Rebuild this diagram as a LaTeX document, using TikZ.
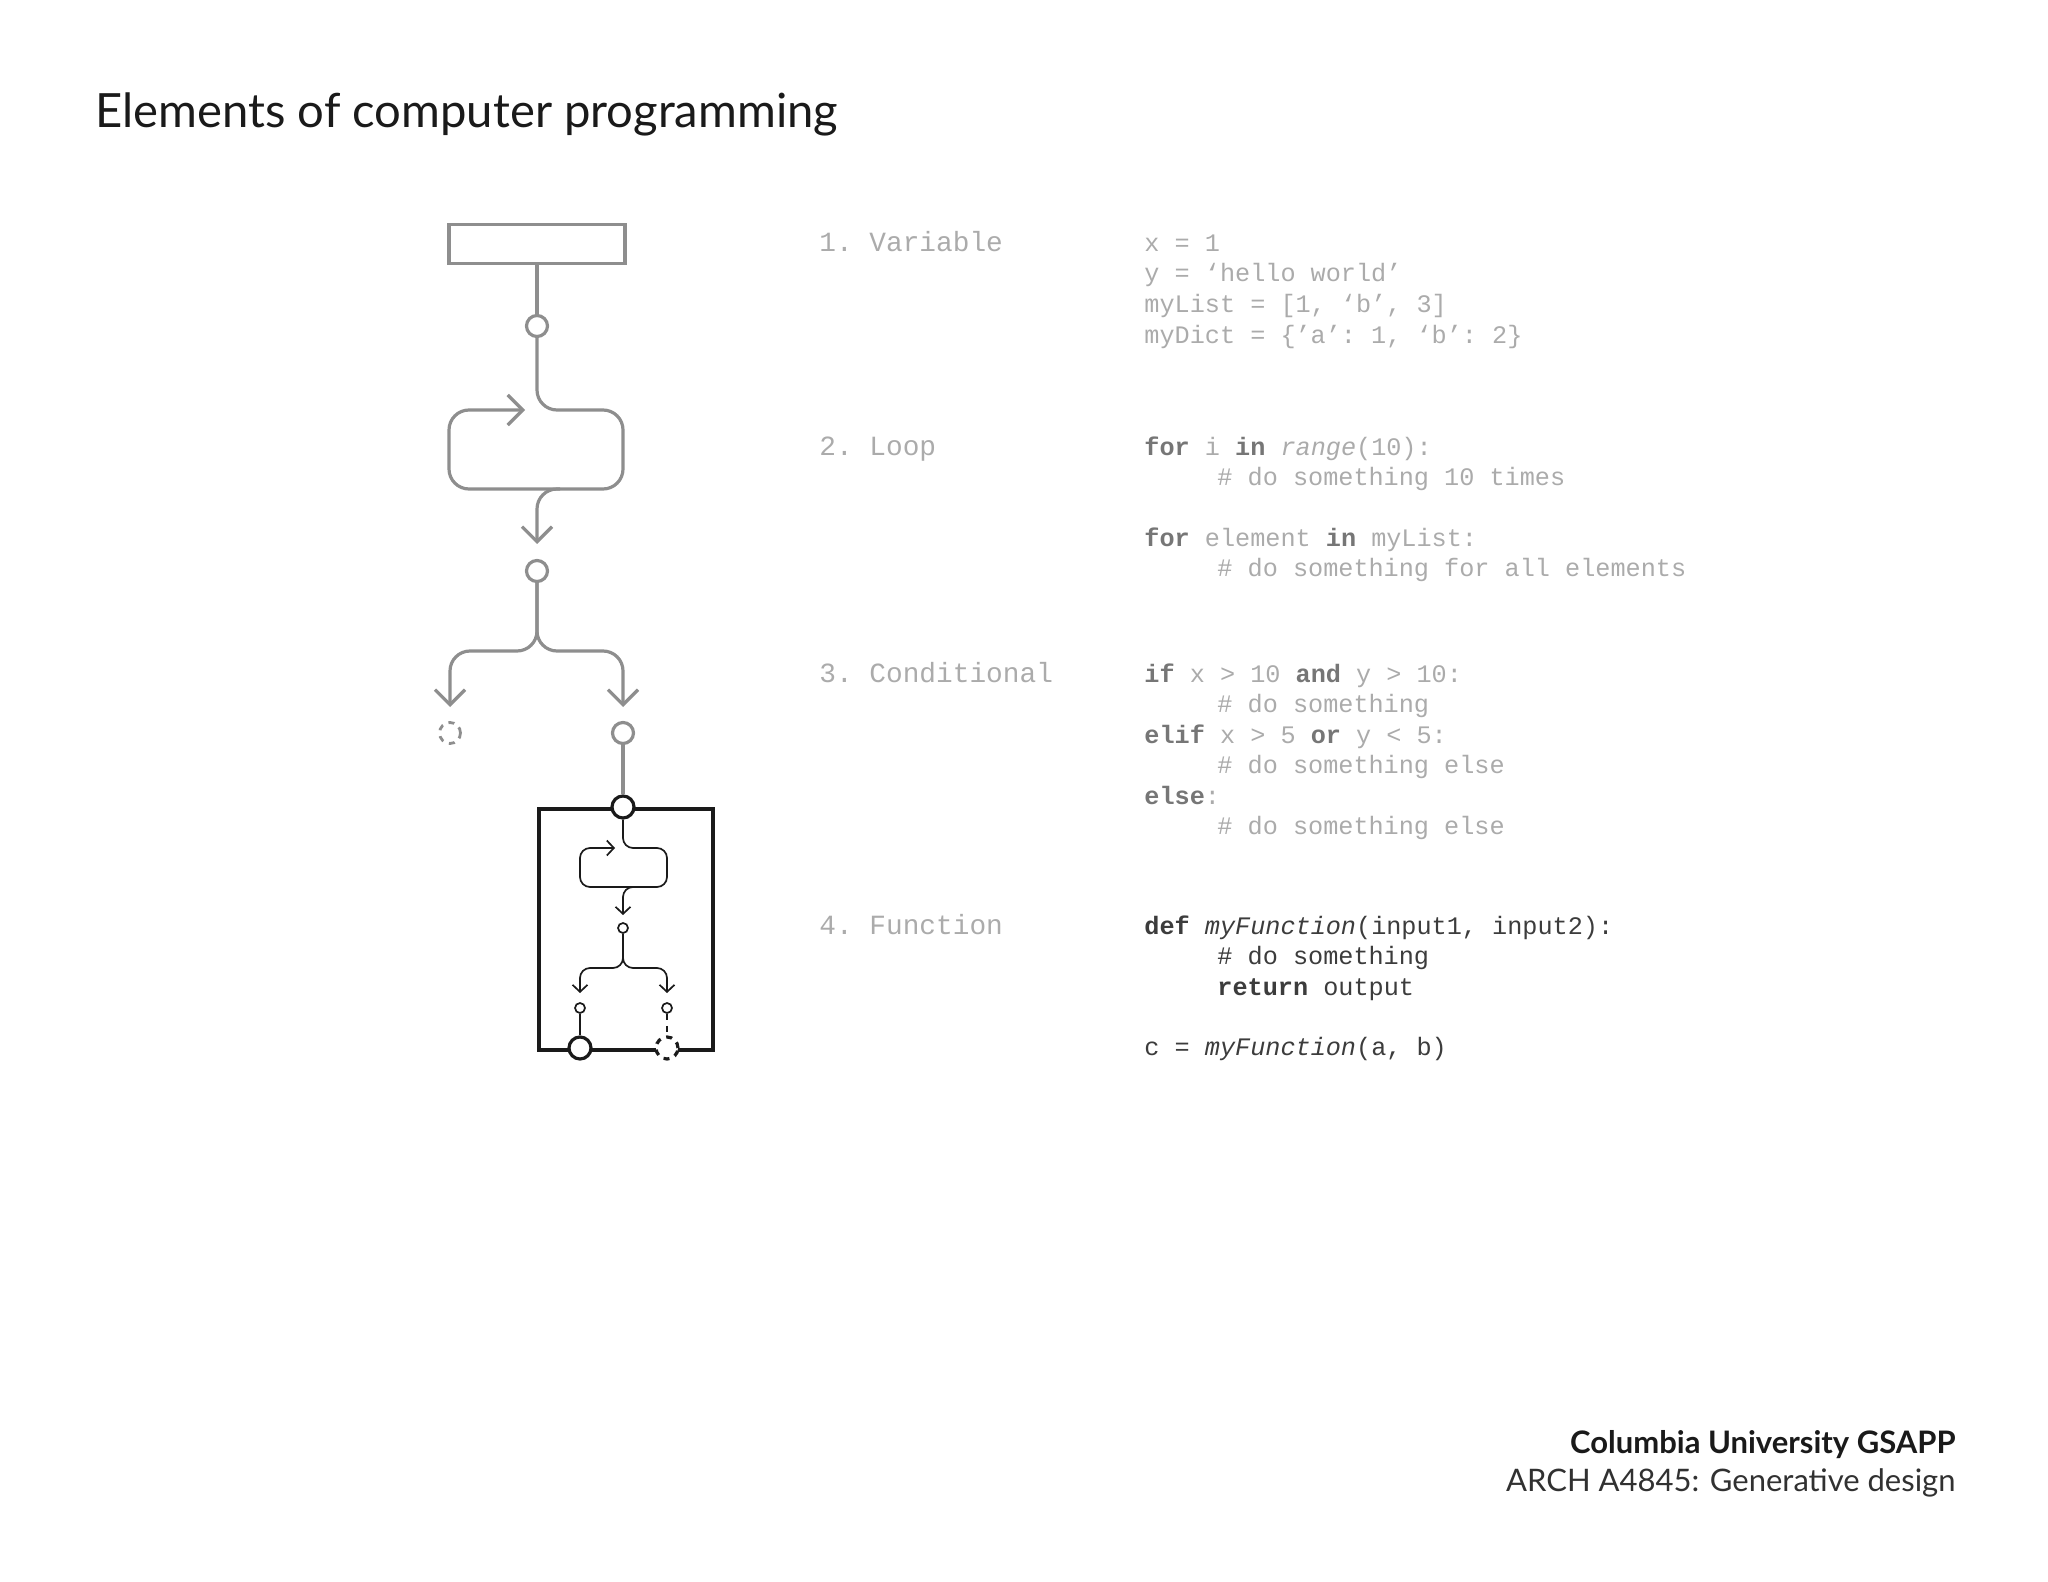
\documentclass[tikz,border=0pt]{standalone}
\usepackage{fontspec}
\setmainfont{Lato}
\setmonofont{Liberation Mono}
\usetikzlibrary{arrows.meta}
\definecolor{lg}{HTML}{8E8E8E}
\definecolor{txg}{HTML}{ABABAB}
\definecolor{kwg}{HTML}{767676}
\definecolor{blk}{HTML}{1A1A1A}
\tikzset{
 gline/.style={draw=lg,line width=1.6pt},
 bline/.style={draw=blk,line width=0.85pt},
 garr/.style={-{Straight Barb[length=7.5pt,width=15pt,line width=1.6pt]}},
 barr/.style={-{Straight Barb[length=3.5pt,width=7.5pt,line width=0.85pt]}},
 gdot/.style={circle,draw=lg,line width=1.6pt,fill=white,minimum size=10.5pt,inner sep=0pt},
 sdot/.style={circle,draw=blk,line width=0.85pt,fill=white,minimum size=5pt,inner sep=0pt},
 bdot/.style={circle,draw=blk,line width=1.6pt,fill=white,minimum size=11pt,inner sep=0pt},
 lab/.style={anchor=mid west,inner sep=0pt,font=\ttfamily\fontsize{12.6}{15}\selectfont,text=txg},
 head/.style={lab,font=\ttfamily\fontsize{13.9}{16}\selectfont}
}
\newcommand{\kwd}[1]{\textcolor{kwg}{\textbf{#1}}}
\begin{document}
\begin{tikzpicture}[x=0.5pt,y=-0.5pt]
\useasboundingbox (0,0) rectangle (2048,1582);
% title
\node[anchor=base west,inner sep=0pt,font=\fontsize{23.6}{27}\selectfont,text=blk] (title) at (95,128) {Elements of computer programming};
% variable box
\node[draw=lg,line width=1.6pt,minimum width=88pt,minimum height=19.5pt,inner sep=0pt] (var) at (537,244) {};
\node[gdot] (c1) at (537,326) {};
\draw[gline] (var.south) -- (c1.north);
% loop
\draw[gline,garr,rounded corners=10pt] (c1.south) -- (537,410) -- (623,410) -- (623,489) -- (449,489) -- (449,410) -- (525,410);
\coordinate (lx) at (560,489);
\draw[gline,garr,rounded corners=10pt] (lx) -- (537,489) -- (537,544);
\node[gdot] (c2) at (537,571) {};
% conditional
\draw[gline,garr,rounded corners=10pt] (c2.south) -- (537,651) -- (450,651) -- (450,707);
\draw[gline,garr,rounded corners=10pt] (c2.south) -- (537,651) -- (623,651) -- (623,707);
\node[gdot,dashed,line width=1.4pt] (c3) at (450,733) {};
\node[gdot] (c4) at (623,733) {};
% function box
\node[draw=blk,line width=2pt,minimum width=87pt,minimum height=120.5pt,inner sep=0pt,anchor=north west] (fbox) at (537,807) {};
\node[bdot] (f0) at (623,807) {};
\draw[gline] (c4.south) -- (f0.north);
\draw[bline,barr,rounded corners=5pt] (f0.south) -- (623,848) -- (667,848) -- (667,887) -- (580,887) -- (580,848) -- (615,848);
\coordinate (ix) at (635,887);
\draw[bline,barr,rounded corners=5pt] (ix) -- (623,887) -- (623,915);
\node[sdot] (f1) at (623,928) {};
\draw[bline,barr,rounded corners=5pt] (f1.south) -- (623,968) -- (580,968) -- (580,993);
\draw[bline,barr,rounded corners=5pt] (f1.south) -- (623,968) -- (667,968) -- (667,993);
\node[sdot] (f2) at (580,1008) {};
\node[sdot] (f3) at (667,1008) {};
\node[bdot] (o1) at (580,1048) {};
\node[bdot,dashed] (o2) at (667,1048) {};
\draw[bline] (f2.south) -- (o1.north);
\draw[bline,dashed] (f3.south) -- (o2.north);
% labels
\node[head] (l1) at (819,246) {1. Variable};
\node[head] (l2) at (819,450) {2. Loop};
\node[head] (l3) at (819,677) {3. Conditional};
\node[head] (l4) at (819,929) {4. Function};
% code
\node[lab] (v1) at (1144,246) {x = 1};
\node[lab] (v2) at (1144,276.5) {y = ‘hello world’};
\node[lab] (v3) at (1144,307) {myList = [1, ‘b’, 3]};
\node[lab] (v4) at (1144,338) {myDict = \{’a’: 1, ‘b’: 2\}};
\node[lab] (p1) at (1144,450) {\kwd{for} i \kwd{in} \textit{range}(10):};
\node[lab] (p2) at (1217,480.5) {\# do something 10 times};
\node[lab] (p3) at (1144,541) {\kwd{for} element \kwd{in} myList:};
\node[lab] (p4) at (1217,571.5) {\# do something for all elements};
\node[lab] (q1) at (1144,677) {\kwd{if} x > 10 \kwd{and} y > 10:};
\node[lab] (q2) at (1217,707.5) {\# do something};
\node[lab] (q3) at (1144,738) {\kwd{elif} x > 5 \kwd{or} y < 5:};
\node[lab] (q4) at (1217,768.5) {\# do something else};
\node[lab] (q5) at (1144,799) {\kwd{else}:};
\node[lab] (q6) at (1217,829.5) {\# do something else};
\node[lab,text=blk!85] (r1) at (1144,929) {\textbf{def} \textit{myFunction}(input1, input2):};
\node[lab,text=blk!85] (r2) at (1217,959.5) {\# do something};
\node[lab,text=blk!85] (r3) at (1217,990) {\textbf{return} output};
\node[lab,text=blk!85] (r4) at (1144,1050) {c = \textit{myFunction}(a, b)};
% footer
\node[anchor=base east,inner sep=0pt,font=\bfseries\fontsize{15.5}{18}\selectfont,text=blk] (ft1) at (1956,1453) {Columbia University GSAPP};
\node[anchor=base east,inner sep=0pt,font=\fontsize{15.5}{18}\selectfont,text=blk!90] (ft2) at (1956,1491) {ARCH A4845: Generative design};
\end{tikzpicture}
\end{document}
